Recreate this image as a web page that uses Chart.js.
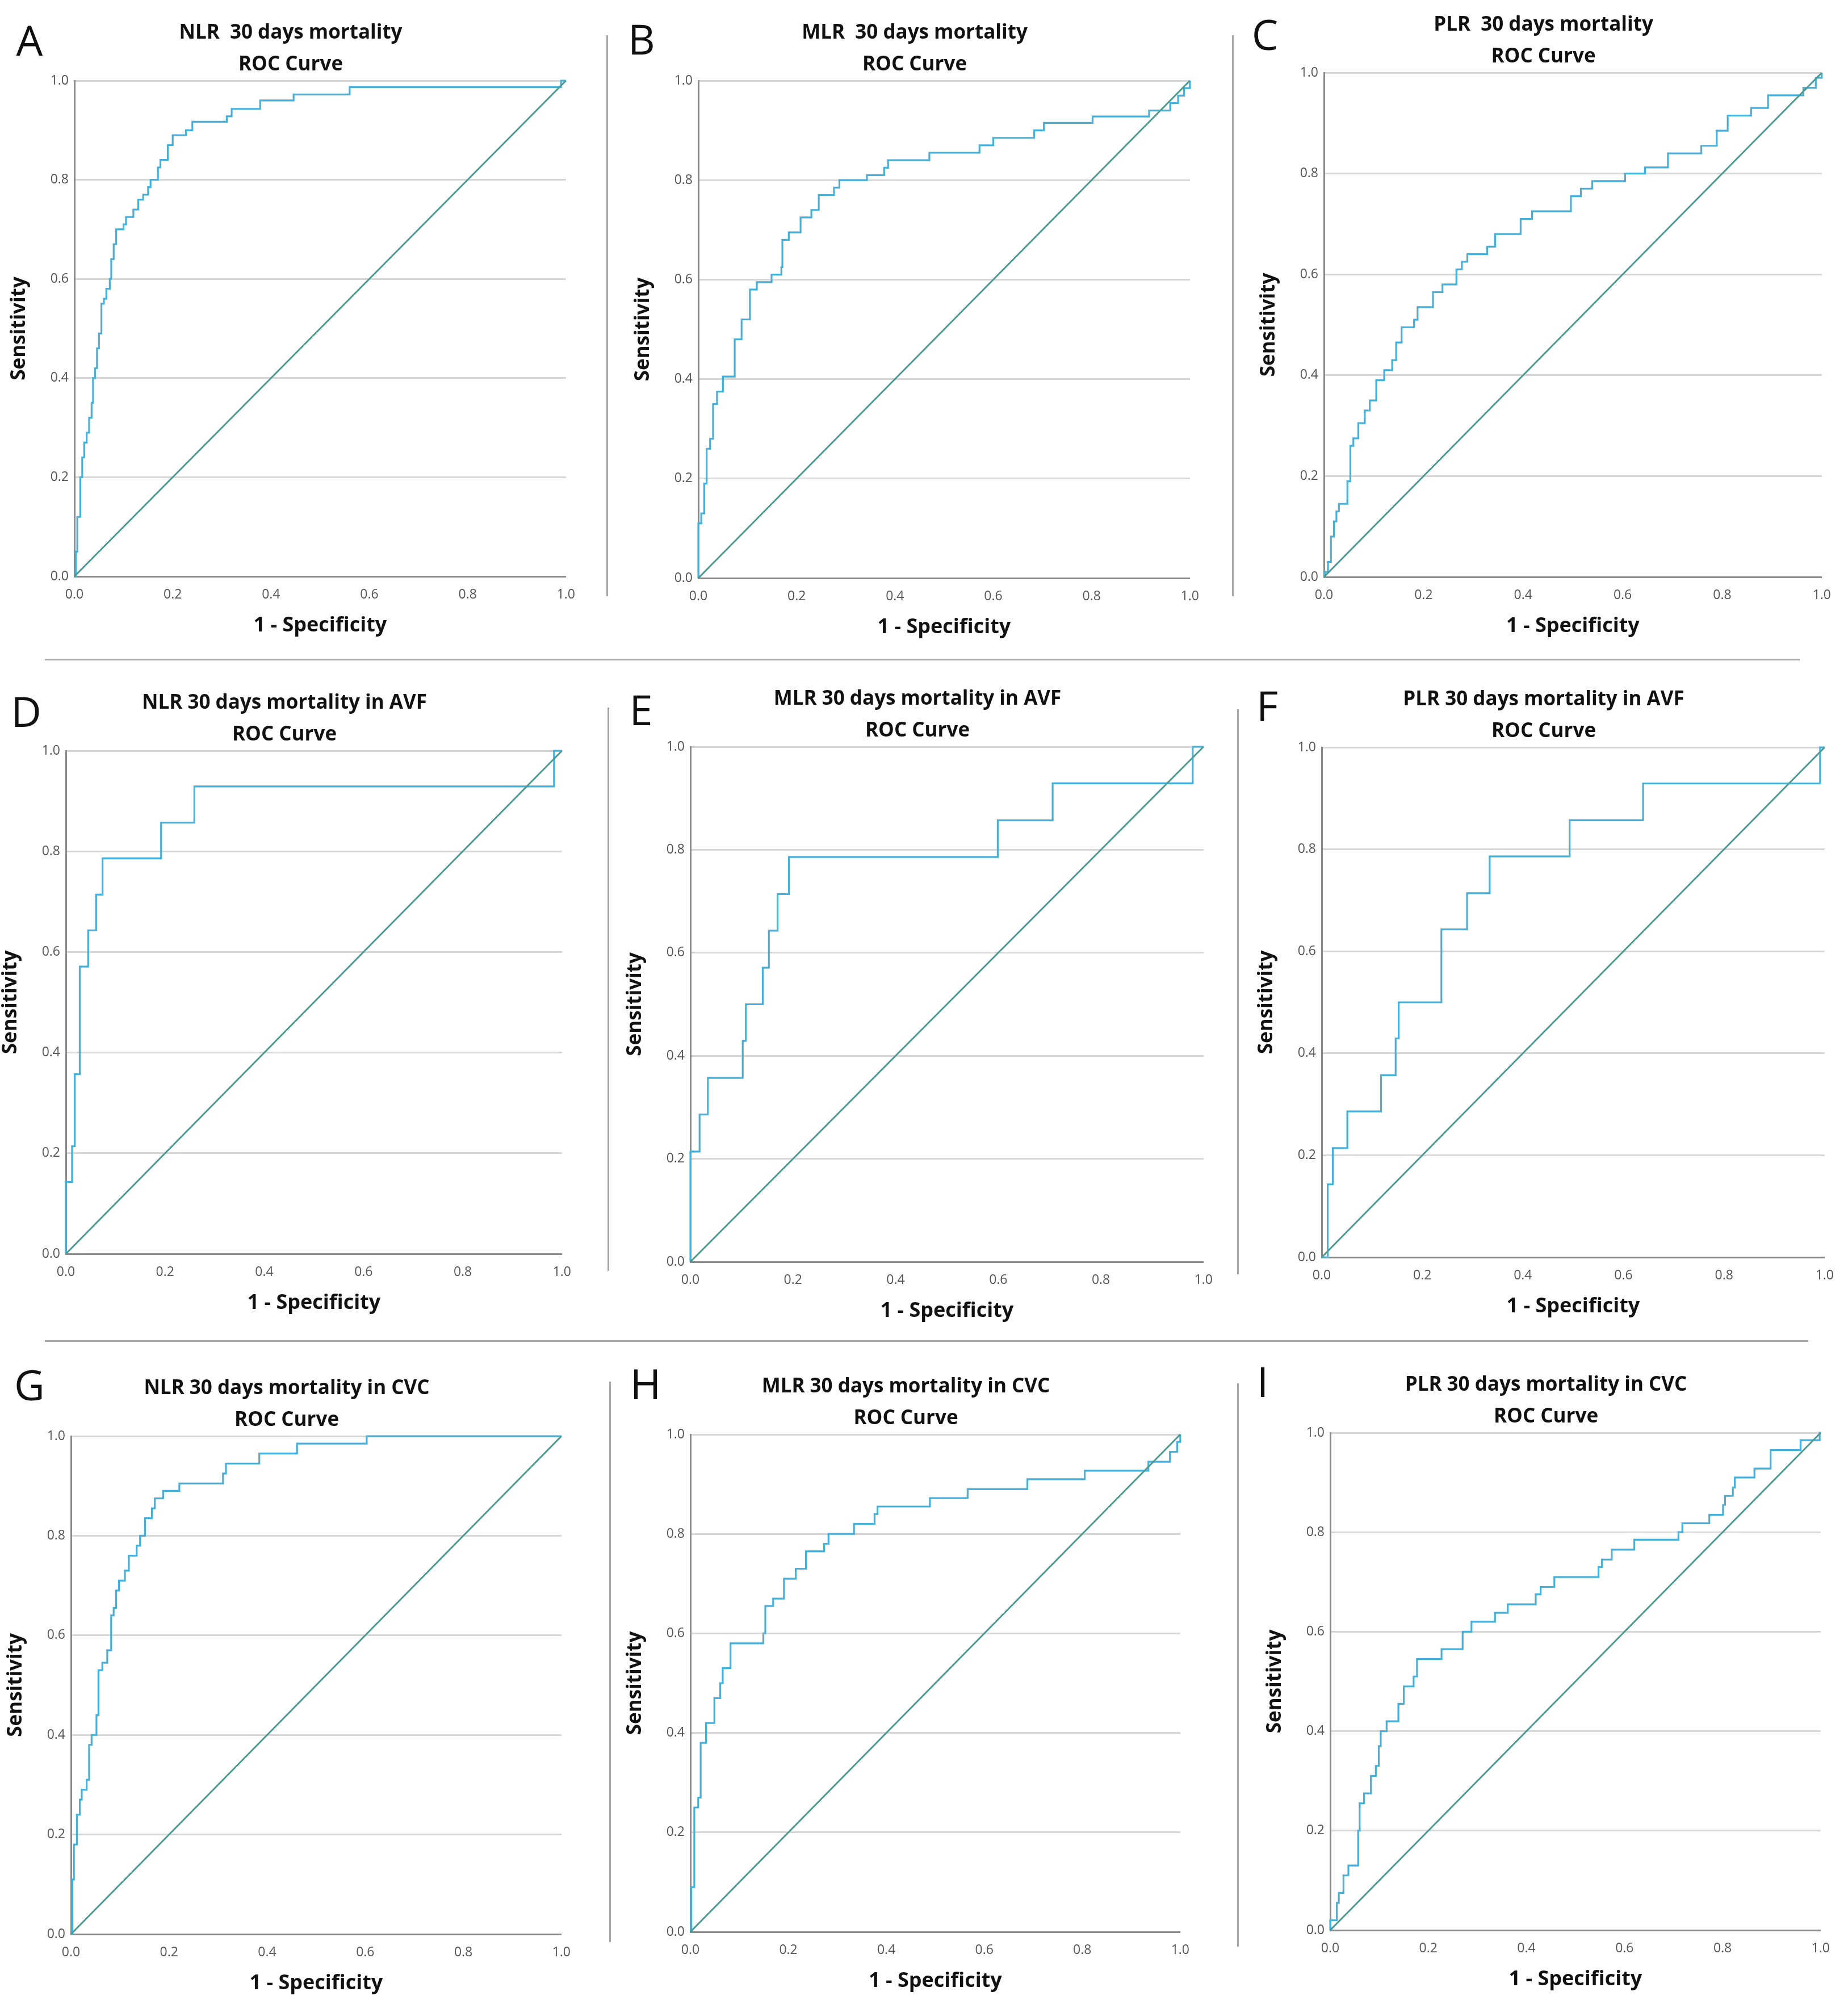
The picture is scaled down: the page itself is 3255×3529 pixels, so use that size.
<!DOCTYPE html>
<html><head><meta charset="utf-8">
<script src="https://cdn.jsdelivr.net/npm/chart.js@4.4.1/dist/chart.umd.min.js"></script>
<style>
html,body{margin:0;padding:0;background:#fff;width:3255px;height:3529px;overflow:hidden;position:relative;font-family:"Open Sans",sans-serif;}
canvas{position:absolute;}
.letter{position:absolute;font-family:"Open Sans",sans-serif;font-size:74px;line-height:74px;color:#111;transform:translate(-50%,-50%);}
.vline{position:absolute;width:3px;background:#a8a8a8;}
.hline{position:absolute;height:3px;background:#a8a8a8;}
</style></head><body>
<script>
// ---- tick labels ----
const tickLabels = ['0.0','0.2','0.4','0.6','0.8','1.0'];
// ---- reference (chance) line ----
const refX = [0, 1];
const refY = [0, 1];
// ---- ROC curves: 1 - specificity (fpr) and sensitivity (tpr) ----
const A_fpr = [0,0.003,0.006,0.012,0.016,0.02,0.025,0.03,0.035,0.038,0.042,0.046,0.05,0.055,0.06,0.065,0.072,0.075,0.08,0.085,0.1,0.105,0.12,0.13,0.14,0.15,0.155,0.17,0.175,0.19,0.2,0.227,0.24,0.31,0.32,0.378,0.446,0.56,0.99,1];
const A_tpr = [0,0.05,0.12,0.2,0.24,0.27,0.29,0.32,0.35,0.40,0.42,0.46,0.49,0.55,0.56,0.58,0.60,0.64,0.67,0.70,0.71,0.725,0.74,0.76,0.77,0.785,0.80,0.825,0.84,0.87,0.89,0.90,0.917,0.928,0.943,0.96,0.972,0.987,1.0,1.0];
const B_fpr = [0,0,0.006,0.012,0.017,0.024,0.03,0.038,0.05,0.074,0.088,0.105,0.119,0.149,0.169,0.171,0.184,0.208,0.23,0.245,0.276,0.287,0.343,0.378,0.386,0.47,0.572,0.6,0.683,0.703,0.802,0.917,0.96,0.976,0.988,1];
const B_tpr = [0,0.11,0.13,0.19,0.26,0.28,0.35,0.375,0.405,0.48,0.52,0.58,0.595,0.61,0.625,0.68,0.695,0.725,0.74,0.77,0.785,0.80,0.81,0.825,0.84,0.855,0.87,0.885,0.90,0.915,0.928,0.94,0.955,0.97,0.985,1.0];
const C_fpr = [0,0.002,0.008,0.014,0.02,0.025,0.03,0.047,0.053,0.059,0.069,0.082,0.092,0.105,0.121,0.137,0.145,0.156,0.181,0.188,0.219,0.238,0.266,0.277,0.288,0.328,0.344,0.395,0.418,0.496,0.516,0.539,0.605,0.645,0.691,0.758,0.789,0.811,0.858,0.892,0.963,0.988,1];
const C_tpr = [0,0.01,0.03,0.08,0.11,0.13,0.145,0.19,0.26,0.275,0.305,0.33,0.35,0.39,0.41,0.43,0.465,0.495,0.51,0.535,0.565,0.58,0.61,0.625,0.64,0.655,0.68,0.71,0.725,0.755,0.77,0.785,0.80,0.812,0.84,0.855,0.885,0.915,0.93,0.955,0.97,0.99,1.0];
const D_fpr = [0,0,0.0125,0.018,0.028,0.045,0.061,0.074,0.192,0.259,0.984,1];
const D_tpr = [0,0.143,0.214,0.357,0.571,0.643,0.714,0.786,0.857,0.929,1.0,1.0];
const E_fpr = [0,0,0.018,0.034,0.102,0.108,0.141,0.153,0.17,0.192,0.599,0.706,0.979,1];
const E_tpr = [0,0.214,0.286,0.357,0.429,0.5,0.571,0.643,0.714,0.786,0.857,0.929,1.0,1.0];
const F_fpr = [0,0.012,0.022,0.051,0.118,0.147,0.153,0.238,0.289,0.334,0.493,0.639,0.991,1];
const F_tpr = [0,0.143,0.214,0.286,0.357,0.429,0.5,0.643,0.714,0.786,0.857,0.929,1.0,1.0];
const G_fpr = [0,0.003,0.006,0.012,0.018,0.022,0.032,0.037,0.042,0.052,0.056,0.064,0.074,0.082,0.087,0.092,0.098,0.11,0.118,0.134,0.141,0.151,0.165,0.171,0.188,0.221,0.31,0.316,0.384,0.461,0.603,1];
const G_tpr = [0,0.11,0.18,0.24,0.27,0.29,0.31,0.38,0.40,0.44,0.53,0.545,0.57,0.64,0.655,0.69,0.71,0.73,0.76,0.78,0.80,0.835,0.855,0.875,0.89,0.905,0.925,0.945,0.965,0.985,1.0,1.0];
const H_fpr = [0,0.002,0.008,0.016,0.021,0.032,0.049,0.061,0.066,0.082,0.149,0.153,0.169,0.191,0.215,0.236,0.273,0.282,0.334,0.376,0.382,0.489,0.566,0.688,0.805,0.935,0.979,0.994,1];
const H_tpr = [0,0.09,0.25,0.27,0.38,0.42,0.47,0.50,0.53,0.58,0.60,0.655,0.67,0.71,0.73,0.765,0.78,0.80,0.82,0.84,0.855,0.872,0.89,0.91,0.927,0.945,0.965,0.985,1.0];
const I_fpr = [0,0,0.0135,0.0175,0.027,0.037,0.057,0.06,0.069,0.083,0.093,0.099,0.103,0.115,0.139,0.15,0.17,0.177,0.227,0.27,0.288,0.336,0.362,0.419,0.429,0.457,0.547,0.554,0.574,0.62,0.71,0.718,0.773,0.801,0.805,0.821,0.825,0.865,0.898,0.959,0.998,1];
const I_tpr = [0,0.02,0.055,0.075,0.11,0.13,0.2,0.255,0.275,0.31,0.33,0.37,0.40,0.42,0.455,0.49,0.51,0.545,0.565,0.60,0.62,0.638,0.655,0.675,0.69,0.71,0.73,0.745,0.765,0.785,0.80,0.818,0.835,0.855,0.873,0.89,0.91,0.928,0.965,0.985,1.0,1.0];

// ---- panel texts ----
const panelLetters = ['A','B','C','D','E','F','G','H','I'];
const panelTitles = [
  'NLR  30 days mortality','MLR  30 days mortality','PLR  30 days mortality',
  'NLR 30 days mortality in AVF','MLR 30 days mortality in AVF','PLR 30 days mortality in AVF',
  'NLR 30 days mortality in CVC','MLR 30 days mortality in CVC','PLR 30 days mortality in CVC'
];
const subTitle = 'ROC Curve';
const xTitle = '1 - Specificity';
const yTitle = 'Sensitivity';
const panelFpr = [A_fpr,B_fpr,C_fpr,D_fpr,E_fpr,F_fpr,G_fpr,H_fpr,I_fpr];
const panelTpr = [A_tpr,B_tpr,C_tpr,D_tpr,E_tpr,F_tpr,G_tpr,H_tpr,I_tpr];

// ---- layout (pixels): plot left, right, top, bottom, title centre ----
const plotBoxes = [
  [131,1001,142,1015,512],[1230,2105,142,1018,1610],[2332,3218,128,1016,2718],
  [116,998,1322,2208,501],[1216,2124,1315,2222,1616],[2328,3211,1316,2214,2719],
  [125,998,2529,3406,500],[1216,2088,2526,3402,1592],[2343,3213,2523,3399,2723]
];
const letterPos = [[52,70],[1130,68],[2228,60],[46,1252],[1129,1249],[2232,1242],[52,2438],[1137,2436],[2224,2432]];
const vLines = [[1068,62,1050],[2170,62,1050],[1070,1246,2238],[2179,1249,2244],[1073,2433,3420],[2179,2436,3428]];
const hLines = [[79,3170,1160],[79,3185,2360]];

const ROC_COLOR = '#45b0d9';
const REF_COLOR = '#4b9a92';
const YW = 131, TITLE_H = 122, XH = 113;

for (const [x,y1,y2] of vLines) {
  const d = document.createElement('div'); d.className='vline';
  d.style.left = x+'px'; d.style.top = y1+'px'; d.style.height = (y2-y1)+'px';
  document.body.appendChild(d);
}
for (const [x1,x2,y] of hLines) {
  const d = document.createElement('div'); d.className='hline';
  d.style.left = x1+'px'; d.style.top = y+'px'; d.style.width = (x2-x1)+'px';
  document.body.appendChild(d);
}

panelLetters.forEach((L, i) => {
  const d = document.createElement('div'); d.className='letter'; d.textContent = L;
  d.style.left = letterPos[i][0]+'px'; d.style.top = letterPos[i][1]+'px';
  document.body.appendChild(d);

  const [pl, pr, pt, pb, tc] = plotBoxes[i];
  const pw = pr - pl, ph = pb - pt;
  const left = pl - YW;
  const rPad = Math.max(18, Math.round(2*tc - 2*left - YW - pw));
  const W = YW + pw + rPad, H = TITLE_H + ph + XH;
  const cv = document.createElement('canvas');
  cv.width = W; cv.height = H;
  cv.style.left = left+'px'; cv.style.top = (pt - TITLE_H)+'px';
  cv.style.width = W+'px'; cv.style.height = H+'px';
  document.body.appendChild(cv);

  const roc = panelFpr[i].map((x, k) => ({x, y: panelTpr[i][k]}));
  const ref = refX.map((x, k) => ({x, y: refY[k]}));
  const tickCb = (v) => tickLabels[Math.round(v*5)];

  new Chart(cv, {
    type: 'line',
    data: { datasets: [
      { data: ref, borderColor: REF_COLOR, borderWidth: 3, pointRadius: 0, fill: false, clip: 6 },
      { data: roc, borderColor: ROC_COLOR, borderWidth: 3.2, pointRadius: 0, fill: false, stepped: 'before', clip: 6 }
    ]},
    options: {
      responsive: false, animation: false, devicePixelRatio: 1,
      layout: { padding: 0 },
      plugins: {
        legend: { display: false }, tooltip: { enabled: false },
        title: { display: true, text: [panelTitles[i], subTitle], color: '#111',
          font: { family: 'Open Sans', size: 35, weight: 'bold', lineHeight: 1.6 },
          padding: { top: 10, bottom: 0 } }
      },
      scales: {
        x: { type: 'linear', min: 0, max: 1,
          ticks: { stepSize: 0.2, callback: tickCb, color: '#555', padding: 11, maxRotation: 0,
            font: { family: 'Open Sans', size: 23 } },
          grid: { display: false },
          border: { display: true, color: '#8a8a8a', width: 3 },
          title: { display: true, text: xTitle, color: '#111', padding: { top: 0, bottom: 5 },
            font: { family: 'Open Sans', size: 36, weight: 'bold', lineHeight: 1.2 } },
          afterFit: (s) => { s.height = XH; }
        },
        y: { type: 'linear', min: 0, max: 1,
          ticks: { stepSize: 0.2, callback: tickCb, color: '#555', padding: 10,
            font: { family: 'Open Sans', size: 23 } },
          grid: { display: true, color: '#d6d6d6', lineWidth: 3, drawTicks: false },
          border: { display: true, color: '#8a8a8a', width: 3 },
          title: { display: true, text: yTitle, color: '#111', padding: { top: 13, bottom: 0 },
            font: { family: 'Open Sans', size: 35, weight: 'bold', lineHeight: 1.2 } },
          afterFit: (s) => { s.width = YW; }
        }
      }
    }
  });
});
</script>
</body></html>
